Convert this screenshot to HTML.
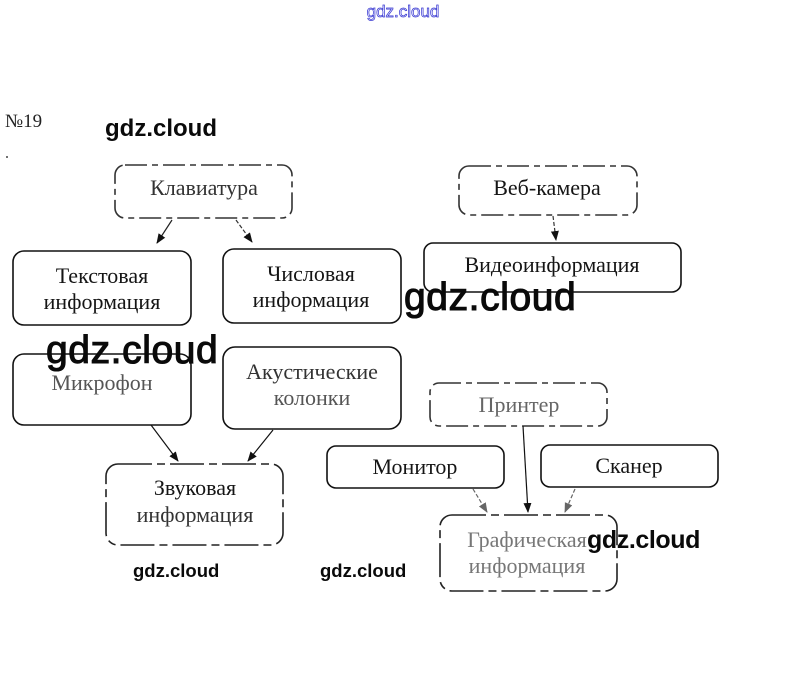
<!DOCTYPE html>
<html>
<head>
<meta charset="utf-8">
<style>
html,body{margin:0;padding:0;background:#fff;}
svg{display:block;}
.t{font-family:"Liberation Serif","DejaVu Serif",serif;font-size:22px;fill:#151515;text-anchor:middle;}
.g{font-family:"Liberation Sans","DejaVu Sans",sans-serif;font-weight:bold;fill:#0a0a0a;}
.gb{font-family:"Liberation Sans","DejaVu Sans",sans-serif;font-weight:normal;fill:#0a0a0a;stroke:#0a0a0a;stroke-width:1.1;}
</style>
</head>
<body>
<svg width="806" height="696" viewBox="0 0 806 696" xmlns="http://www.w3.org/2000/svg">
<defs>
<marker id="ah" markerWidth="10" markerHeight="10" refX="9" refY="5" orient="auto" markerUnits="userSpaceOnUse">
<path d="M0,1 L10,5 L0,9 Z" fill="#111"/>
</marker>
<marker id="ahg" markerWidth="10" markerHeight="10" refX="9" refY="5" orient="auto" markerUnits="userSpaceOnUse">
<path d="M0,1 L10,5 L0,9 Z" fill="#666"/>
</marker>
</defs>
<rect width="806" height="696" fill="#fff"/>

<!-- top blue watermark -->
<text x="403" y="17" font-family="Liberation Sans, DejaVu Sans, sans-serif" font-size="17" text-anchor="middle" fill="#eeeeff" stroke="#3535d0" stroke-width="0.7">gdz.cloud</text>

<!-- №19 -->
<text x="5" y="127" font-family="Liberation Serif, serif" font-size="19" fill="#222">№19</text>
<circle cx="7" cy="157" r="1" fill="#444"/>

<!-- Boxes -->
<g fill="none" stroke-width="1.6">
<rect x="115" y="165" width="177" height="53" rx="10" stroke="#333" stroke-dasharray="22 5 6 5"/>
<rect x="13" y="251" width="178" height="74" rx="11" stroke="#111"/>
<rect x="223" y="249" width="178" height="74" rx="11" stroke="#111"/>
<rect x="459" y="166" width="178" height="49" rx="10" stroke="#333" stroke-dasharray="22 5 6 5"/>
<rect x="424" y="243" width="257" height="49" rx="9" stroke="#111"/>
<rect x="13" y="354" width="178" height="71" rx="11" stroke="#111"/>
<rect x="223" y="347" width="178" height="82" rx="12" stroke="#111"/>
<rect x="106" y="464" width="177" height="81" rx="12" stroke="#222" stroke-dasharray="34 5 8 5"/>
<rect x="430" y="383" width="177" height="43" rx="9" stroke="#333" stroke-dasharray="22 5 6 5"/>
<rect x="327" y="446" width="177" height="42" rx="9" stroke="#111"/>
<rect x="541" y="445" width="177" height="42" rx="9" stroke="#111"/>
<rect x="440" y="515" width="177" height="76" rx="12" stroke="#222" stroke-dasharray="34 5 8 5"/>
</g>

<!-- Arrows -->
<g stroke-width="1.2" fill="none">
<line x1="172" y1="220" x2="157" y2="243" stroke="#222" marker-end="url(#ah)"/>
<line x1="236" y1="220" x2="252" y2="242" stroke="#333" stroke-dasharray="4 2" marker-end="url(#ah)"/>
<line x1="553" y1="216" x2="556" y2="240" stroke="#333" stroke-dasharray="4 2" marker-end="url(#ah)"/>
<line x1="151" y1="425" x2="178" y2="461" stroke="#111" marker-end="url(#ah)"/>
<line x1="273" y1="430" x2="248" y2="461" stroke="#111" marker-end="url(#ah)"/>
<line x1="523" y1="426" x2="528" y2="512" stroke="#111" marker-end="url(#ah)"/>
<line x1="473" y1="489" x2="487" y2="512" stroke="#666" stroke-dasharray="4 2" marker-end="url(#ahg)"/>
<line x1="575" y1="489" x2="565" y2="512" stroke="#666" stroke-dasharray="4 2" marker-end="url(#ahg)"/>
</g>

<!-- Box texts -->
<text class="t" x="204" y="195" style="fill:#333">Клавиатура</text>
<text class="t" x="102" y="283">Текстовая</text>
<text class="t" x="102" y="309">информация</text>
<text class="t" x="311" y="281">Числовая</text>
<text class="t" x="311" y="307">информация</text>
<text class="t" x="547" y="195">Веб-камера</text>
<text class="t" x="552" y="272">Видеоинформация</text>
<text class="t" x="102" y="390" style="fill:#555">Микрофон</text>
<text class="t" x="312" y="379" style="fill:#333">Акустические</text>
<text class="t" x="312" y="405" style="fill:#555">колонки</text>
<text class="t" x="195" y="495">Звуковая</text>
<text class="t" x="195" y="522" style="fill:#333">информация</text>
<text class="t" x="519" y="412" style="fill:#666">Принтер</text>
<text class="t" x="415" y="474">Монитор</text>
<text class="t" x="629" y="473">Сканер</text>
<text class="t" x="527" y="547" style="fill:#777">Графическая</text>
<text class="t" x="527" y="573" style="fill:#777">информация</text>

<!-- gdz watermarks -->
<text class="g" x="105" y="136" font-size="24">gdz.cloud</text>
<text class="gb" x="404" y="310" font-size="39" letter-spacing="0.6">gdz.cloud</text>
<text class="gb" x="46" y="363" font-size="39" letter-spacing="0.6">gdz.cloud</text>
<text class="g" x="587" y="548" font-size="25" letter-spacing="-0.4">gdz.cloud</text>
<text class="g" x="133" y="577" font-size="18.5">gdz.cloud</text>
<text class="g" x="320" y="577" font-size="18.5">gdz.cloud</text>
</svg>
</body>
</html>
